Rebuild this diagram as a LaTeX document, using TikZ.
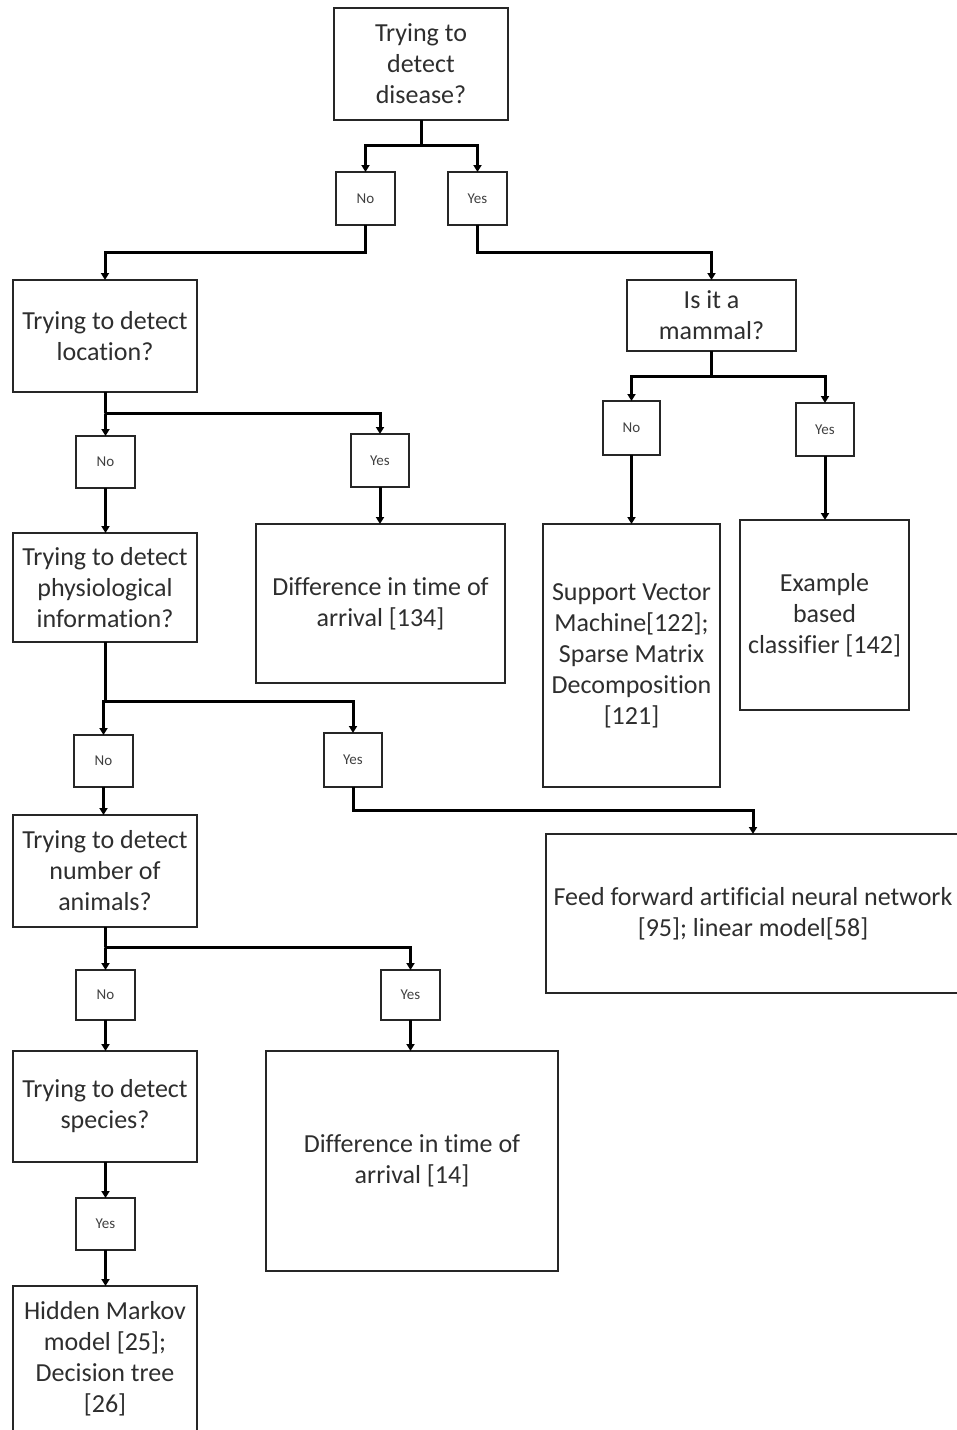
\documentclass[tikz,border=0pt]{standalone}
\usepackage{fontspec}
\setmainfont{Carlito}[Ligatures=NoCommon]
\usetikzlibrary{arrows.meta}
\begin{document}
\begin{tikzpicture}[x=1pt,y=-1pt,
  box/.style={draw=black!85,line width=1.8pt,inner sep=0pt,outer sep=0pt,align=center,
    font=\fontsize{26}{31}\selectfont,text=black!82},
  lab/.style={draw=black!85,line width=1.8pt,inner sep=0pt,outer sep=0pt,
    minimum width=59pt,minimum height=53pt,font=\fontsize{15}{18}\selectfont,text=black!75},
  ln/.style={line width=3pt,black},
  arr/.style={ln,-{Triangle[width=8pt,length=7pt]}}]
\useasboundingbox (0,0) rectangle (957,1430);
% nodes
\node[box,minimum width=174pt,minimum height=112pt] (top) at (421,64) {Trying to\\detect\\disease?};
\node[lab] (no1) at (365.5,198.5) {No};
\node[lab] (yes1) at (477.5,198.5) {Yes};
\node[box,minimum width=184pt,minimum height=112pt] (loc) at (105,336) {Trying to detect\\location?};
\node[box,minimum width=169pt,minimum height=71pt] (mam) at (711.5,315.5) {Is it a\\mammal?};
\node[lab,minimum height=52pt] (no2) at (105.5,462) {No};
\node[lab,minimum width=58pt] (yes2) at (380,460.5) {Yes};
\node[box,minimum width=249pt,minimum height=159pt] (dta1) at (380.5,603.5) {Difference in time of\\arrival [134]};
\node[lab,minimum width=57pt,minimum height=54pt] (no3) at (631.5,428) {No};
\node[lab,minimum width=58pt] (yes3) at (825,429.5) {Yes};
\node[box,minimum width=177pt,minimum height=263pt] (svm) at (631.5,655.5) {Support Vector\\Machine[122];\\Sparse Matrix\\Decomposition\\{[121]}};
\node[box,minimum width=169pt,minimum height=190pt] (ex) at (824.5,615) {Example\\based\\classifier [142]};
\node[box,minimum width=184pt,minimum height=109pt] (phys) at (105,587.5) {Trying to detect\\physiological\\information?};
\node[lab,minimum height=52pt] (no4) at (103.5,761) {No};
\node[lab,minimum width=58pt,minimum height=54pt] (yes4) at (353,760) {Yes};
\node[box,minimum width=184pt,minimum height=112pt] (num) at (105,871) {Trying to detect\\number of\\animals?};
\node[box,minimum width=414pt,minimum height=159pt] (ff) at (753,913.5) {Feed forward artificial neural network\\{[95]}; linear model[58]};
\node[lab,minimum height=50pt] (no5) at (105.5,995) {No};
\node[lab,minimum height=50pt] (yes5) at (410.5,995) {Yes};
\node[box,minimum width=184pt,minimum height=111pt] (spec) at (105,1106.5) {Trying to detect\\species?};
\node[box,minimum width=292pt,minimum height=220pt] (dta2) at (412,1161) {Difference in time of\\arrival [14]};
\node[lab,minimum height=52pt] (yes6) at (105.5,1224) {Yes};
\node[box,minimum width=184pt,minimum height=146pt] (hmm) at (105,1359) {Hidden Markov\\model [25];\\Decision tree\\{[26]}};
% junctions
\coordinate (j1) at (421,145);
\coordinate (j2) at (105,413);
\coordinate (j3) at (711.5,376);
\coordinate (j4) at (105,701);
\coordinate (j5) at (105,947);
% connectors
\draw[ln] (top.south) -- (j1);
\draw[arr] (j1) -| (no1.north);
\draw[arr] (j1) -| (yes1.north);
\draw[arr] (no1.south) -- ++(0,27) -| (loc.north);
\draw[arr] (yes1.south) -- ++(0,27) -| (mam.north);
\draw[ln] (loc.south) -- (j2);
\draw[arr] (j2) -| (no2.north);
\draw[arr] (j2) -| (yes2.north);
\draw[arr] (no2.south) -- (phys.north -| no2.south);
\draw[arr] (yes2.south) -- (dta1.north -| yes2.south);
\draw[ln] (mam.south) -- (j3);
\draw[arr] (j3) -| (no3.north);
\draw[arr] (j3) -| (yes3.north);
\draw[arr] (no3.south) -- (svm.north);
\draw[arr] (yes3.south) -- (ex.north -| yes3.south);
\draw[ln] (phys.south) -- (j4);
\draw[arr] (j4) -| (no4.north);
\draw[arr] (j4) -| (yes4.north);
\draw[arr] (no4.south) -- (num.north -| no4.south);
\draw[arr] (yes4.south) -- ++(0,23) -| (ff.north);
\draw[ln] (num.south) -- (j5);
\draw[arr] (j5) -| (no5.north);
\draw[arr] (j5) -| (yes5.north);
\draw[arr] (no5.south) -- (spec.north -| no5.south);
\draw[arr] (yes5.south) -- (dta2.north -| yes5.south);
\draw[arr] (spec.south -| yes6.north) -- (yes6.north);
\draw[arr] (yes6.south) -- (hmm.north -| yes6.south);
\end{tikzpicture}
\end{document}
